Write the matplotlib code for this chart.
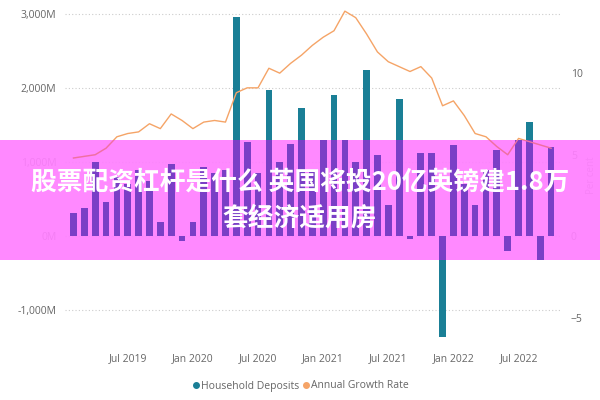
import matplotlib
matplotlib.use("Agg")
import matplotlib.pyplot as plt
from matplotlib.patches import Rectangle
from matplotlib.lines import Line2D

plt.rcParams['font.family'] = ['Open Sans', 'DejaVu Sans']

months = list(range(45))  # Feb 2019 .. Oct 2022
tick_pos = [5, 11, 17, 23, 29, 35, 41]
tick_labels = ["Jul 2019", "Jan 2020", "Jul 2020", "Jan 2021", "Jul 2021", "Jan 2022", "Jul 2022"]
deposits = [310, 380, 1000, 460, 800, 700, 900, 750, 190, 970, -60, 190, 930, 850, 900,
            2960, 1270, 850, 1970, 1000, 1250, 1730, 900, 1300, 1910, 1300, 1000, 2240, 1100,
            420, 1860, -30, 1120, 1130, -1360, 1230, 700, 420, 900, 1160, -200, 1300, 1540,
            -320, 1200]
growth = [4.8, 4.9, 5.0, 5.4, 6.1, 6.3, 6.4, 6.9, 6.6, 7.5, 7.1, 6.6, 7.0, 7.1, 7.0,
          8.8, 9.1, 9.1, 10.3, 10.0, 10.6, 11.1, 11.7, 12.2, 12.6, 13.8, 13.4, 12.4, 11.3,
          10.7, 10.4, 10.1, 10.4, 9.7, 8.0, 8.3, 7.4, 6.3, 6.1, 5.5, 5.0, 6.0, 5.8, 5.6, 5.4]
left_ticks = [-1000, 0, 1000, 2000, 3000]
left_labels = ["-1,000M", "0M", "1,000M", "2,000M", "3,000M"]
right_ticks = [-5, 0, 5, 10]

teal = "#1a7f96"
orange = "#f5a467"
gray = "#666666"

fig = plt.figure(figsize=(6, 4), dpi=100)
pos = [0.108, 0.137, 0.825, 0.85]
ylo, yhi = -1470, 3120
k = 74 / 16.3 / 1000

ax = fig.add_axes(pos)
ax.bar(months, deposits, width=0.62, color=teal, zorder=2)
ax.set_ylim(ylo, yhi)
ax.set_xlim(-0.8, 44.8)
ax.set_yticks(left_ticks)
ax.set_yticklabels(left_labels)
ax.set_xticks(tick_pos)
ax.set_xticklabels(tick_labels)
ax.grid(axis='y', linestyle=(0, (1, 2)), color="#cccccc", linewidth=0.8)
for s in ax.spines.values():
    s.set_visible(False)
ax.tick_params(length=0, colors=gray, labelsize=7.5, pad=6)

ax2 = ax.twinx()
ax2.plot(months, growth, color=orange, linewidth=1.0, zorder=3)
ax2.set_ylim(ylo * k, yhi * k)
ax2.set_yticks(right_ticks)
ax2.tick_params(length=0, colors=gray, labelsize=7.5, pad=8)
for s in ax2.spines.values():
    s.set_visible(False)
ax2.set_ylabel("Per cent", color="#999999", fontsize=7, labelpad=2)

# banner
y0, y1 = 0.35, 0.65
fig.patches.append(Rectangle((0, y0), 1, y1 - y0, transform=fig.transFigure,
                             facecolor="#ff80ff", alpha=0.93, zorder=5))

ax3 = fig.add_axes(pos, zorder=6)
ax3.set_xlim(ax.get_xlim()); ax3.set_ylim(ylo, yhi)
ax3.axis('off')
clip = Rectangle((0, y0), 1, y1 - y0, transform=fig.transFigure)
bars = ax3.bar(months, deposits, width=0.62, color="#7a3fc6")
for b in bars:
    b.set_clip_path(clip)
ln, = ax3.plot(months, [g / k for g in growth], color="#f06fa0", linewidth=1.0)
ln.set_clip_path(clip)

fig.text(0.5, 0.545, "股票配资杠杆是什么 英国将投20亿英镑建1.8万", ha='center', va='center',
         color='white', fontsize=18.5, fontweight='bold',
         family=['Noto Sans CJK SC', 'DejaVu Sans'], zorder=10)
fig.text(0.5, 0.455, "套经济适用房", ha='center', va='center', color='white', fontsize=18.5,
         fontweight='bold', family=['Noto Sans CJK SC', 'DejaVu Sans'], zorder=10)

handles = [Line2D([], [], marker='o', linestyle='', color=teal, markersize=4),
           Line2D([], [], marker='o', linestyle='', color=orange, markersize=4)]
fig.legend(handles, ["Household Deposits", "Annual Growth Rate"], loc='center',
           bbox_to_anchor=(0.5, 0.035), ncol=2, frameon=False, fontsize=7.5,
           handletextpad=0.0, handlelength=1.0, columnspacing=0.1, labelcolor=gray)

fig.savefig("out.png", dpi=100)
